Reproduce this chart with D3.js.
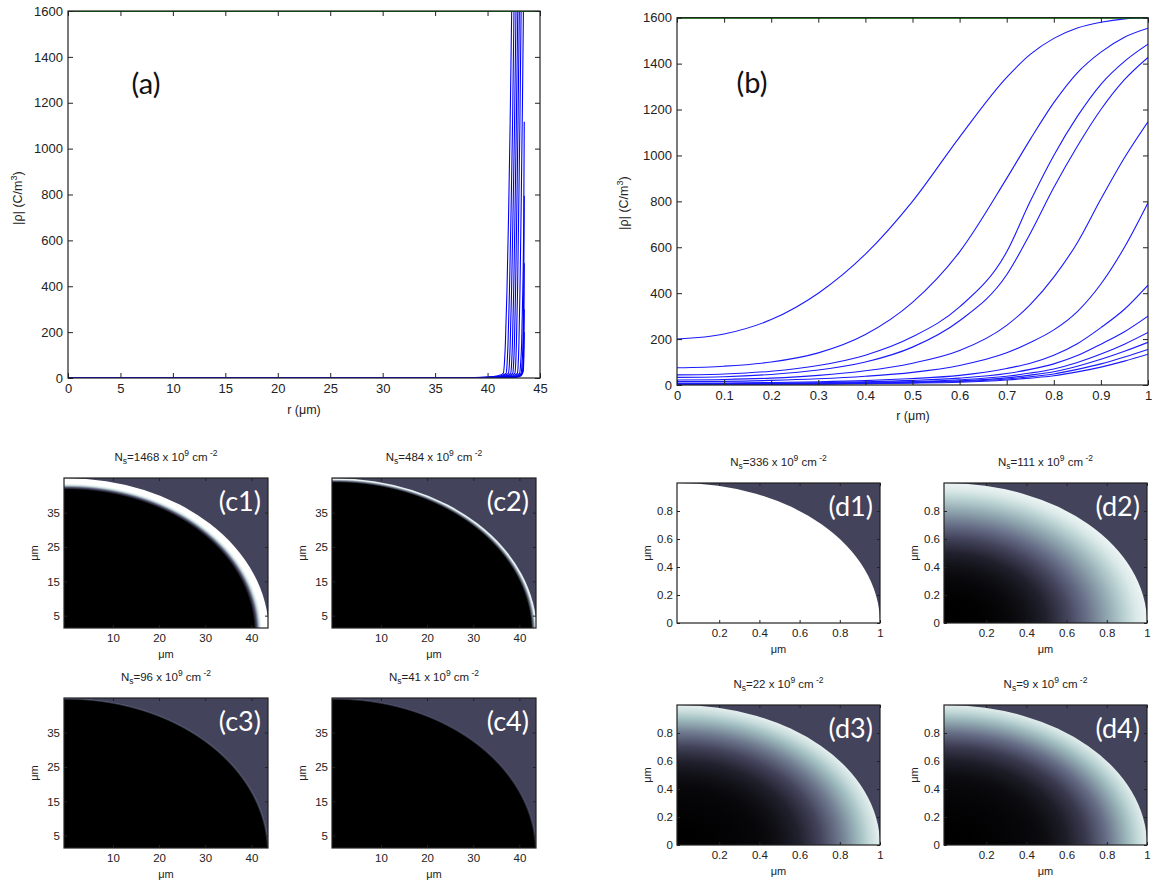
<!DOCTYPE html>
<html><head><meta charset="utf-8">
<script src="https://cdn.jsdelivr.net/npm/d3@7"></script>
<style>
body{margin:0;background:#fff}
svg{display:block}
text{font-family:"Liberation Sans",Arial,sans-serif;fill:#222}
</style>
</head><body>
<svg id="fig" width="1154" height="886"></svg>
<script>
// ---------------- DATA ----------------
// Panel (a): |rho| vs r (um), large structure
const aLevels = [0, 1, 4, 10, 20, 60, 150, 380, 700, 1100, 1600, 2200];
const a1R = [0, 37.5, 40.0, 41.0, 41.50, 41.60, 41.70, 41.85, 42.00, 42.15, 42.30, 42.45];
const a2R = [0, 38.0, 40.4, 41.3, 41.76, 41.86, 41.95, 42.09, 42.23, 42.38, 42.52, 42.66];
const a3R = [0, 38.3, 40.7, 41.5, 41.98, 42.08, 42.16, 42.29, 42.42, 42.57, 42.71, 42.85];
const a4R = [0, 38.6, 41.0, 41.8, 42.20, 42.29, 42.37, 42.49, 42.61, 42.74, 42.88, 43.01];
const a5R = [0, 38.9, 41.2, 42.0, 42.40, 42.48, 42.56, 42.67, 42.78, 42.90, 43.03, 43.15];
const a6R = [0, 39.2, 41.4, 42.2, 42.60, 42.68, 42.75, 42.86, 42.96, 43.08, 43.20, 43.32];
const a7R = [0, 39.5, 41.7, 42.45, 42.84, 42.92, 42.99, 43.09, 43.19, 43.30, 43.42, 43.52];
const a8R = [0, 39.8, 42.0, 42.7, 43.05, 43.15, 43.25, 43.36, 43.45, 43.5];
const a8V = [0, 1, 4, 10, 20, 60, 150, 380, 700, 1117];
const a9R = [0, 40.0, 42.2, 42.9, 43.2, 43.28, 43.37, 43.45, 43.5];
const a9V = [0, 1, 4, 10, 20, 60, 150, 380, 795];
const a10R = [0, 40.2, 42.4, 43.0, 43.3, 43.38, 43.45, 43.5];
const a10V = [0, 1, 4, 10, 20, 60, 180, 500];
const a11R = [0, 40.4, 42.6, 43.1, 43.35, 43.43, 43.5];
const a11V = [0, 1, 4, 10, 25, 90, 300];
const a12R = [0, 40.6, 42.8, 43.2, 43.4, 43.46, 43.5];
const a12V = [0, 1, 4, 10, 30, 90, 200];
const aCap = [[0, 1600], [45, 1600]];
const aXTicks = [0, 5, 10, 15, 20, 25, 30, 35, 40, 45];
const rhoTicks = [0, 200, 400, 600, 800, 1000, 1200, 1400, 1600];

// Panel (b): |rho| vs r (um), small structure
const bR = [0, 0.1, 0.2, 0.3, 0.4, 0.5, 0.6, 0.7, 0.75, 0.8, 0.85, 0.9, 0.95, 1];
const b1 = [200, 222, 285, 400, 570, 800, 1080, 1340, 1440, 1510, 1555, 1580, 1595, 1600];
const b2 = [75, 82, 100, 140, 220, 360, 580, 900, 1070, 1230, 1360, 1450, 1515, 1554];
const b3 = [44, 48, 60, 85, 130, 210, 340, 580, 800, 1000, 1170, 1310, 1410, 1485];
const b4 = [33, 36, 46, 65, 100, 165, 280, 480, 660, 860, 1040, 1200, 1330, 1427];
const b5 = [22, 24, 30, 42, 62, 95, 150, 260, 350, 470, 620, 810, 990, 1147];
const b6 = [15, 16, 20, 27, 38, 55, 85, 140, 185, 240, 320, 440, 600, 794];
const b7 = [8, 9, 11, 14, 19, 28, 42, 72, 95, 130, 180, 250, 330, 435];
const b8 = [5, 6, 8, 10, 14, 20, 30, 50, 68, 92, 128, 178, 232, 300];
const b9 = [4, 5, 6, 8, 11, 15, 23, 38, 52, 70, 98, 135, 178, 229];
const b10 = [3, 4, 5, 6, 8, 12, 18, 31, 43, 58, 82, 112, 147, 186];
const b11 = [2, 3, 4, 5, 7, 10, 15, 26, 36, 48, 68, 92, 122, 155];
const b12 = [1, 2, 3, 4, 6, 8, 12, 22, 30, 40, 57, 78, 104, 134];
const bCap = [[0, 1600], [1, 1600]];
const bXTicks = [0, 0.1, 0.2, 0.3, 0.4, 0.5, 0.6, 0.7, 0.8, 0.9, 1];

// Maps (c): radial colour level profiles (r in um, level 0..1 of colormap)
const cNs = ["1468", "484", "96", "41"];
const cTags = ["(c1)", "(c2)", "(c3)", "(c4)"];
const c1R = [0, 40.6, 41.2, 41.8, 42.3, 43.8];   const c1L = [0, 0, 0.35, 0.85, 1, 1];
const c2R = [0, 42.6, 43.1, 43.5, 43.8];         const c2L = [0, 0, 0.5, 0.95, 0.9];
const c3R = [0, 43.3, 43.8];                     const c3L = [0, 0, 0.45];
const c4R = [0, 43.3, 43.8];                     const c4L = [0, 0, 0.4];
const cXTicks = [10, 20, 30, 40];
const cYTicks = [5, 15, 25, 35];
const cRadius = [43.8, 45.0];   // quarter-ellipse extent in x and y (um)

// Maps (d)
const dNs = ["336", "111", "22", "9"];
const dTags = ["(d1)", "(d2)", "(d3)", "(d4)"];
const dR = [0, 0.1, 0.2, 0.3, 0.4, 0.5, 0.6, 0.7, 0.8, 0.9, 0.95, 1];
const d1L = [1, 1, 1, 1, 1, 1, 1, 1, 1, 1, 1, 1];
const d2L = [0, 0, 0.01, 0.03, 0.07, 0.15, 0.29, 0.46, 0.64, 0.82, 0.9, 0.95];
const d3L = [0, 0, 0.01, 0.02, 0.03, 0.07, 0.15, 0.29, 0.49, 0.72, 0.84, 0.93];
const d4L = [0, 0, 0.01, 0.02, 0.03, 0.06, 0.13, 0.26, 0.46, 0.7, 0.82, 0.92];
const dXTicks = [0.2, 0.4, 0.6, 0.8, 1];
const dYTicks = [0, 0.2, 0.4, 0.6, 0.8];
const dRadius = [1, 1];
const outsideLevel = 0.3;

// ---------------- HELPERS ----------------
const svg = d3.select("#fig");
const defs = svg.append("defs");
let clipId = 0;

function bone(t) {
  const cl = v => Math.max(0, Math.min(1, v));
  const hr = cl(t / 0.375), hg = cl((t - 0.375) / 0.375), hb = cl((t - 0.75) / 0.25);
  const r = (7 * t + hb) / 8, g = (7 * t + hg) / 8, b = (7 * t + hr) / 8;
  return d3.rgb(r * 255, g * 255, b * 255).formatHex();
}

function addClip(x0, y0, w, h) {
  const id = "clip" + (clipId++);
  defs.append("clipPath").attr("id", id).append("rect")
    .attr("x", x0).attr("y", y0).attr("width", w).attr("height", h);
  return "url(#" + id + ")";
}

function axesBox(x, y, xt, yt, o) {
  const tick = o.tick, fs = o.fs;
  const [x0, x1] = x.range(), [yb, yt0] = y.range();
  const g = svg.append("g");
  const fmtX = o.xfmt || (d => d), fmtY = o.yfmt || (d => d);
  const gb = g.append("g").attr("transform", `translate(0,${yb})`)
    .call(d3.axisBottom(x).tickValues(xt).tickSizeInner(-tick).tickSizeOuter(0).tickPadding(o.xpad).tickFormat(fmtX));
  const gt = g.append("g").attr("transform", `translate(0,${yt0})`)
    .call(d3.axisTop(x).tickValues(xt).tickSizeInner(-tick).tickSizeOuter(0).tickFormat(() => ""));
  const gl = g.append("g").attr("transform", `translate(${x0},0)`)
    .call(d3.axisLeft(y).tickValues(yt).tickSizeInner(-tick).tickSizeOuter(0).tickPadding(o.ypad).tickFormat(fmtY));
  const gr = g.append("g").attr("transform", `translate(${x1},0)`)
    .call(d3.axisRight(y).tickValues(yt).tickSizeInner(-tick).tickSizeOuter(0).tickFormat(() => ""));
  [gb, gt, gl, gr].forEach(a => {
    a.select(".domain").remove();
    a.attr("font-size", fs);
    a.selectAll(".tick line").attr("stroke", o.tickColor || "#222").attr("stroke-width", 1);
  });
  g.append("rect").attr("x", x0).attr("y", yt0).attr("width", x1 - x0).attr("height", yb - yt0)
    .attr("fill", "none").attr("stroke", "#222").attr("stroke-width", 1.2);
  return g;
}

function rhoLabel(cx, cy) {
  const t = svg.append("text").attr("transform", `translate(${cx},${cy}) rotate(-90)`)
    .attr("text-anchor", "middle").attr("font-size", 12.5);
  t.append("tspan").text("|ρ| (C/m");
  t.append("tspan").attr("dy", -5).attr("font-size", 9).text("3");
  t.append("tspan").attr("dy", 5).text(")");
}

function nsTitle(cx, cy, num) {
  const t = svg.append("text").attr("x", cx).attr("y", cy).attr("text-anchor", "middle").attr("font-size", 11.5);
  t.append("tspan").text("N");
  t.append("tspan").attr("dy", 3).attr("font-size", 8.5).text("s");
  t.append("tspan").attr("dy", -3).text("=" + num + " x 10");
  t.append("tspan").attr("dy", -5).attr("font-size", 8.5).text("9");
  t.append("tspan").attr("dy", 5).text(" cm");
  t.append("tspan").attr("dy", -5).attr("font-size", 8.5).text(" -2");
}

// ---------------- PANEL (a) ----------------
{
  const x = d3.scaleLinear([0, 45], [68, 540]);
  const y = d3.scaleLinear([0, 1600], [378, 11]);
  const clip = addClip(68, 11, 472, 367);
  const line = d3.line().x(d => x(d[0])).y(d => y(d[1])).curve(d3.curveMonotoneX);
  const series = [
    d3.zip(a1R, aLevels), d3.zip(a2R, aLevels), d3.zip(a3R, aLevels), d3.zip(a4R, aLevels),
    d3.zip(a5R, aLevels), d3.zip(a6R, aLevels), d3.zip(a7R, aLevels),
    d3.zip(a8R, a8V), d3.zip(a9R, a9V), d3.zip(a10R, a10V), d3.zip(a11R, a11V), d3.zip(a12R, a12V)
  ];
  const g = svg.append("g").attr("clip-path", clip);
  g.selectAll("path.c").data(series).join("path").attr("class", "c")
    .attr("d", line).attr("fill", "none").attr("stroke", "#0000ff").attr("stroke-width", 1.1);
  g.append("path").attr("d", d3.line().x(d => x(d[0])).y(d => y(d[1]))(aCap))
    .attr("stroke", "#007a00").attr("stroke-width", 2).attr("fill", "none");
  axesBox(x, y, aXTicks, rhoTicks, {tick: 5, fs: 13, xpad: 6, ypad: 5});
  svg.append("text").attr("x", 304).attr("y", 414).attr("text-anchor", "middle").attr("font-size", 12.5).text("r (μm)");
  rhoLabel(22, 198);
  svg.append("text").attr("x", 146).attr("y", 94).attr("text-anchor", "middle")
    .style("font-family", "Lato, 'Open Sans', sans-serif").attr("font-size", 29).style("fill", "#111").text("(a)");
}

// ---------------- PANEL (b) ----------------
{
  const x = d3.scaleLinear([0, 1], [677, 1148]);
  const y = d3.scaleLinear([0, 1600], [385, 17.7]);
  const clip = addClip(677, 17, 471, 368);
  const line = d3.line().x(d => x(d[0])).y(d => y(d[1])).curve(d3.curveMonotoneX);
  const series = [b1, b2, b3, b4, b5, b6, b7, b8, b9, b10, b11, b12].map(v => d3.zip(bR, v));
  const g = svg.append("g").attr("clip-path", clip);
  g.selectAll("path.c").data(series).join("path").attr("class", "c")
    .attr("d", line).attr("fill", "none").attr("stroke", "#1a1aff").attr("stroke-width", 1.1);
  g.append("path").attr("d", d3.line().x(d => x(d[0])).y(d => y(d[1]))(bCap))
    .attr("stroke", "#007a00").attr("stroke-width", 2).attr("fill", "none");
  axesBox(x, y, bXTicks, rhoTicks, {tick: 5, fs: 13, xpad: 6, ypad: 5});
  svg.append("text").attr("x", 913).attr("y", 420).attr("text-anchor", "middle").attr("font-size", 12.5).text("r (μm)");
  rhoLabel(628, 203);
  svg.append("text").attr("x", 752).attr("y", 93).attr("text-anchor", "middle")
    .style("font-family", "Lato, 'Open Sans', sans-serif").attr("font-size", 29).style("fill", "#111").text("(b)");
}

// ---------------- MAPS ----------------
let gradId = 0;
function mapPanel(box, xDom, yDom, radius, rArr, lArr, xt, yt, ns, tag, labelOff) {
  const x = d3.scaleLinear(xDom, [box.x0, box.x1]);
  const y = d3.scaleLinear(yDom, [box.y1, box.y0]);
  const clip = addClip(box.x0, box.y0, box.x1 - box.x0, box.y1 - box.y0);
  const g = svg.append("g").attr("clip-path", clip);
  g.append("rect").attr("x", box.x0).attr("y", box.y0).attr("width", box.x1 - box.x0).attr("height", box.y1 - box.y0)
    .attr("fill", bone(outsideLevel));
  const id = "grad" + (gradId++);
  const rMax = rArr[rArr.length - 1];
  const grad = defs.append("radialGradient").attr("id", id)
    .attr("cx", 0.5).attr("cy", 0.5).attr("r", 0.5).attr("gradientUnits", "objectBoundingBox");
  grad.selectAll("stop").data(d3.zip(rArr, lArr)).join("stop")
    .attr("offset", d => d[0] / rMax).attr("stop-color", d => bone(d[1]));
  g.append("ellipse")
    .attr("cx", x(0)).attr("cy", y(0))
    .attr("rx", x(radius[0]) - x(0)).attr("ry", y(0) - y(radius[1]))
    .attr("fill", `url(#${id})`);
  axesBox(x, y, xt, yt, {tick: 3, fs: 11.5, xpad: 6, ypad: 4});
  const cx = (box.x0 + box.x1) / 2;
  nsTitle(cx, box.y0 - 17, ns);
  svg.append("text").attr("x", cx).attr("y", box.y1 + labelOff).attr("text-anchor", "middle").attr("font-size", 11).text("μm");
  svg.append("text").attr("transform", `translate(${box.x0 - 26},${(box.y0 + box.y1) / 2}) rotate(-90)`)
    .attr("text-anchor", "middle").attr("font-size", 11).text("μm");
  svg.append("text").attr("x", box.x1 - 7).attr("y", box.y0 + 33).attr("text-anchor", "end")
    .style("font-family", "Lato, 'Open Sans', sans-serif").attr("font-size", 27).style("fill", "#ffffff").text(tag);
}

const cBoxes = [
  {x0: 64, x1: 268, y0: 478, y1: 628},
  {x0: 332, x1: 536, y0: 478, y1: 628},
  {x0: 64, x1: 268, y0: 698, y1: 848},
  {x0: 332, x1: 536, y0: 698, y1: 848}
];
const cProfiles = [[c1R, c1L], [c2R, c2L], [c3R, c3L], [c4R, c4L]];
cBoxes.forEach((b, i) => mapPanel(b, [-0.6, 43.6], [1.4, 45.1], cRadius, cProfiles[i][0], cProfiles[i][1],
  cXTicks, cYTicks, cNs[i], cTags[i], 30));

const dBoxes = [
  {x0: 677, x1: 880, y0: 483, y1: 623},
  {x0: 944, x1: 1147, y0: 483, y1: 623},
  {x0: 677, x1: 880, y0: 705, y1: 845},
  {x0: 944, x1: 1147, y0: 705, y1: 845}
];
const dProfiles = [d1L, d2L, d3L, d4L];
dBoxes.forEach((b, i) => mapPanel(b, [-0.01, 1], [0, 1], dRadius, dR, dProfiles[i],
  dXTicks, dYTicks, dNs[i], dTags[i], 30));
</script>
</body></html>
